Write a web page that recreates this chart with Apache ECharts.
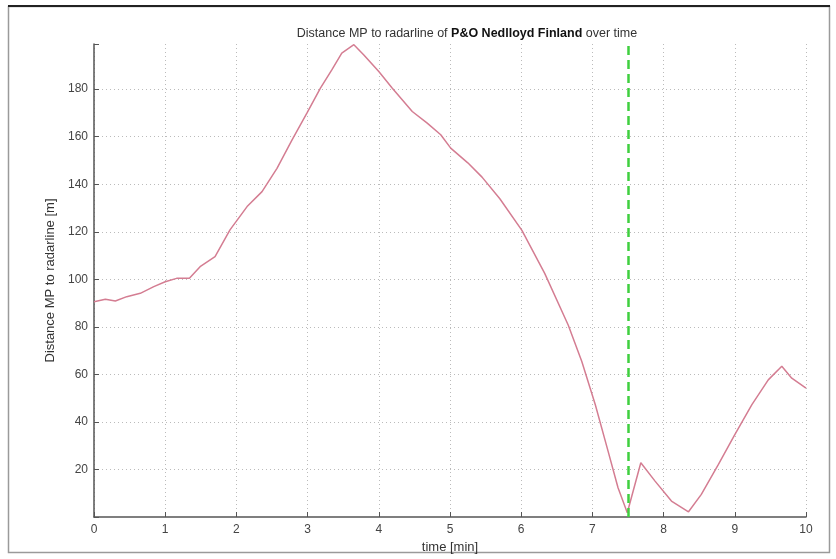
<!DOCTYPE html>
<html>
<head>
<meta charset="utf-8">
<script src="https://cdn.jsdelivr.net/npm/echarts@6/dist/echarts.min.js"></script>
<style>html,body{margin:0;padding:0;background:#fff}#c{width:836px;height:559px}</style>
</head>
<body>
<div id="c"></div>
<script>
const timeMin = [0.0, 0.16, 0.30, 0.46, 0.65, 0.84, 1.0, 1.16, 1.34, 1.49, 1.70, 1.91, 2.15, 2.36, 2.57, 2.78, 2.99, 3.18, 3.34, 3.48, 3.65, 3.79, 4.0, 4.19, 4.47, 4.68, 4.87, 5.01, 5.25, 5.45, 5.70, 6.01, 6.33, 6.66, 6.85, 7.04, 7.22, 7.36, 7.49, 7.68, 7.88, 8.11, 8.35, 8.53, 8.77, 9.0, 9.24, 9.47, 9.66, 9.80, 10.0];
const distance = [90.6, 91.6, 90.9, 92.7, 94.1, 96.9, 99.0, 100.4, 100.4, 105.3, 109.5, 120.8, 130.6, 136.9, 146.7, 158.6, 169.9, 180.4, 188.1, 195.2, 198.7, 194.4, 187.4, 180.4, 170.6, 165.7, 160.8, 155.2, 149.0, 143.0, 133.9, 120.6, 102.5, 80.8, 65.5, 47.3, 27.7, 12.3, 1.8, 22.8, 15.1, 6.7, 2.2, 9.5, 22.1, 34.7, 47.3, 57.7, 63.4, 58.4, 54.2];
const markTime = [7.5];
const xTicks = [0,1,2,3,4,5,6,7,8,9,10];
const yTicks = [20,40,60,80,100,120,140,160,180];

const font = 'Liberation Sans, Arial, sans-serif';
const chart = echarts.init(document.getElementById('c'));
chart.setOption({
  animation: false,
  backgroundColor: '#fff',
  graphic: [
    { type: 'rect', shape: { x: 8.5, y: 6.5, width: 821, height: 546 }, style: { fill: 'none', stroke: '#9a9a9a', lineWidth: 1.5 }, silent: true },
    { type: 'line', shape: { x1: 8, y1: 6, x2: 830, y2: 6 }, style: { stroke: '#222', lineWidth: 2 }, silent: true }
  ],
  title: {
    text: '{n|Distance MP to radarline of }{b|P&O Nedlloyd Finland}{n| over time}',
    left: 462, top: 22, textAlign: 'center',
    textStyle: { fontWeight: 'normal', rich: {
      n: { fontFamily: font, fontSize: 12.5, color: '#333', fontWeight: 'normal' },
      b: { fontFamily: font, fontSize: 12.5, color: '#111', fontWeight: 'bold' }
    } }
  },
  grid: { left: 94, right: 30, top: 44, bottom: 41, containLabel: false },
  xAxis: {
    type: 'value', min: 0, max: 10, interval: 1,
    name: 'time [min]', nameLocation: 'middle', nameGap: 24,
    nameTextStyle: { fontFamily: font, fontSize: 13, color: '#333' },
    axisLine: { show: true, lineStyle: { color: '#555', width: 1.5 } },
    axisTick: { show: true, inside: true, length: 5, lineStyle: { color: '#555' } },
    axisLabel: { fontFamily: font, fontSize: 12, color: '#444', margin: 7,
      formatter: v => xTicks.indexOf(v) >= 0 ? String(v) : '' },
    splitLine: { show: true, lineStyle: { color: '#bbb', type: [1, 3], width: 1 } }
  },
  yAxis: {
    type: 'value', min: 0, max: 199, interval: 20,
    name: 'Distance MP to radarline [m]', nameLocation: 'middle', nameGap: 37,
    nameTextStyle: { fontFamily: font, fontSize: 13, color: '#333' },
    axisLine: { show: true, lineStyle: { color: '#555', width: 1.5 } },
    axisTick: { show: true, inside: true, length: 5, lineStyle: { color: '#555' } },
    axisLabel: { fontFamily: font, fontSize: 12, color: '#444', margin: 6,
      formatter: v => yTicks.indexOf(v) >= 0 ? String(v) : '' },
    splitLine: { show: true, showMaxLine: false, showMinLine: false, lineStyle: { color: '#bbb', type: [1, 3], width: 1 } }
  },
  series: [{
    type: 'line',
    data: timeMin.map((t, i) => [t, distance[i]]),
    showSymbol: false,
    lineStyle: { color: '#d47d92', width: 1.5 },
    markLine: {
      silent: true, symbol: 'none', label: { show: false },
      lineStyle: { color: '#3fcf3f', type: [9, 5], width: 2.5 },
      data: markTime.map(t => ({ xAxis: t }))
    }
  }]
});
</script>
</body>
</html>
